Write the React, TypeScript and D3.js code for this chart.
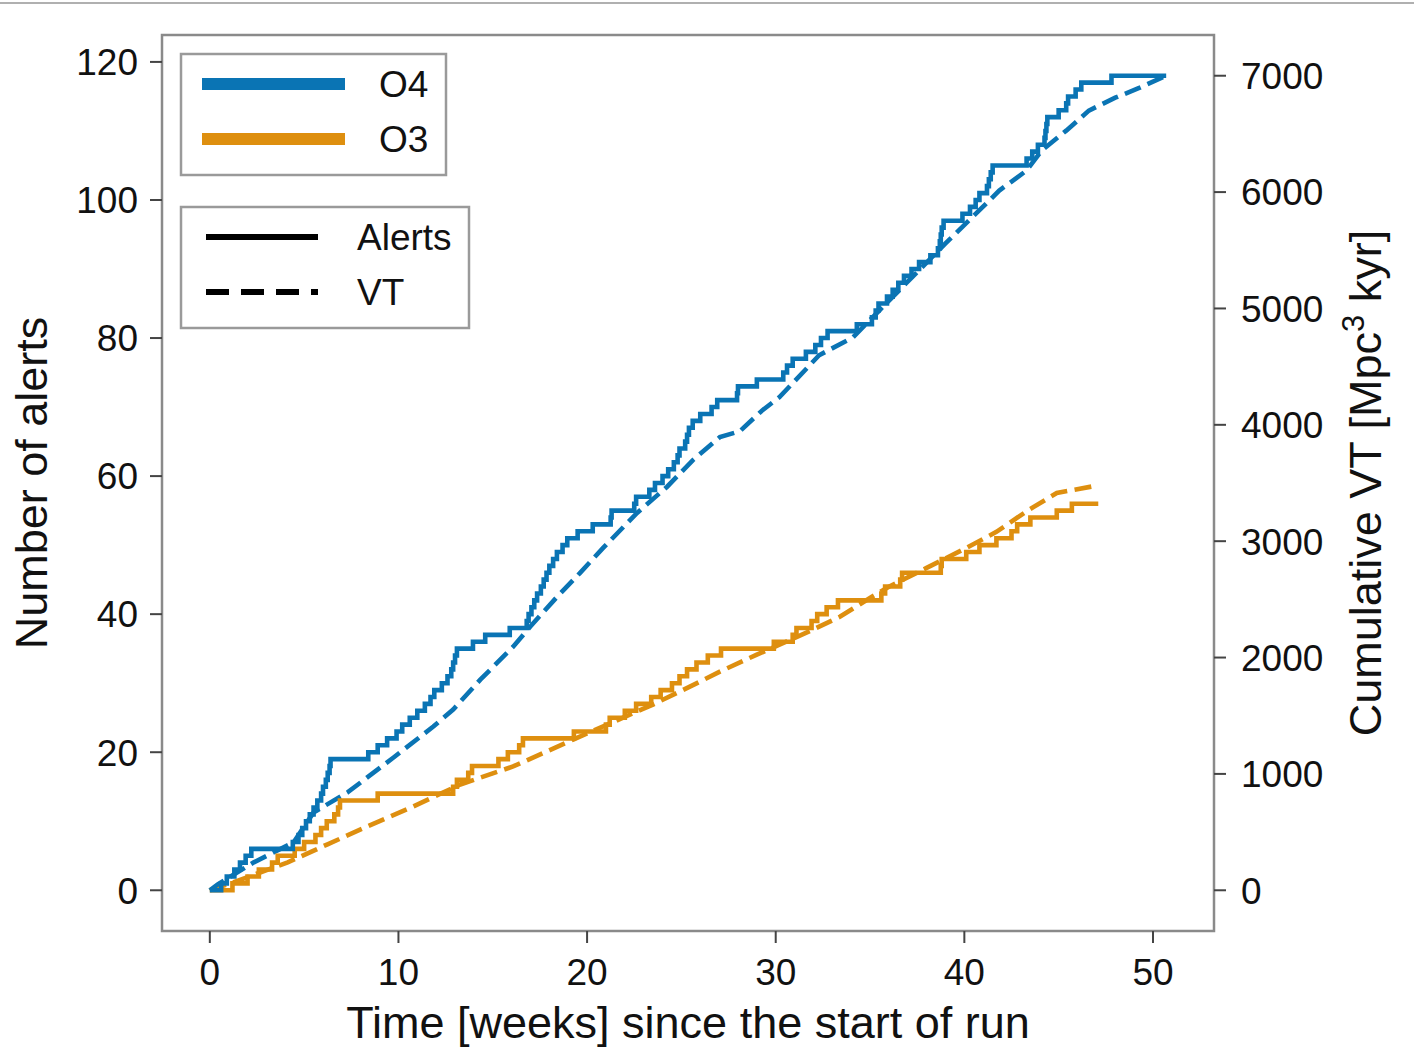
import React from "react";
import * as d3 from "d3";

// ---------- data ----------
// week at which each successive O4 alert arrived (cumulative count = index + 1)
const o4AlertWeeks = [
  0.6, 0.9, 1.3, 1.6, 1.9, 2.2,
  4.4, 4.7, 4.9, 5.1, 5.3, 5.5, 5.7, 5.9, 6.0, 6.15, 6.25, 6.35, 6.4,
  8.4, 8.9, 9.4, 9.9, 10.2, 10.6, 11.0, 11.4, 11.7, 11.9, 12.3, 12.6, 12.8, 12.9, 13.0, 13.1,
  13.95, 14.6, 15.9, 16.8, 16.9, 17.05, 17.2, 17.35, 17.55, 17.7, 17.85, 18.0, 18.2, 18.4, 18.7, 18.95, 19.5, 20.3, 21.25, 21.3,
  22.5, 22.6, 23.3, 23.6, 24.0, 24.3, 24.6, 24.8, 24.9, 25.2, 25.3, 25.4, 25.6, 26.0, 26.6, 26.9,
  27.95, 28.0, 29.0, 30.4, 30.6, 30.9, 31.6, 32.1, 32.4, 32.75,
  34.3, 35.1, 35.3, 35.45, 35.9, 36.2, 36.5, 36.8, 37.2, 37.6, 38.2, 38.6, 38.7, 38.75, 38.8, 38.9,
  39.9, 40.3, 40.6, 40.8, 41.2, 41.3, 41.4, 41.5,
  43.3, 43.6, 43.9, 44.25, 44.3, 44.35, 44.4, 45.0, 45.4, 45.5, 45.9, 46.2, 47.8,
];
const o4RunEndWeek = 50.7;

const o3AlertWeeks = [
  1.2, 2.0, 2.6, 3.3, 3.6, 4.5, 5.0, 5.6, 5.9, 6.2, 6.6, 6.8, 6.9,
  8.9, 12.9, 13.1, 13.7, 13.9, 15.3, 15.8, 16.4, 16.6,
  19.3, 21.0, 21.2, 22.0, 22.6, 23.4, 23.9, 24.5, 24.9, 25.3, 25.8, 26.4, 27.1,
  29.9, 30.9, 31.1, 31.9, 32.2, 32.7, 33.3,
  35.6, 35.8, 36.6, 36.7, 38.75, 38.8, 40.1, 40.8, 41.7, 42.5, 42.8, 43.5, 44.9, 45.7,
];
const o3RunEndWeek = 47.1;

// cumulative VT [Mpc^3 kyr]
const o4VtWeeks = [0, 0.42, 2.33, 4.44, 5.5, 7.3, 9.74, 11.85, 12.9, 14.34, 16.08, 16.98, 18.41, 19.63, 20.85, 22.65, 24.23, 25.61, 27.04, 28.1, 29.3, 30.2, 32.3, 34.1, 35.5, 39.0, 40.95, 41.85, 43.3, 44.1, 45.4, 46.6, 48.0, 49.3, 50.7];
const o4VtValues = [0, 51, 240, 412, 669, 841, 1141, 1407, 1553, 1810, 2093, 2265, 2522, 2728, 2942, 3243, 3466, 3697, 3895, 3945, 4126, 4238, 4598, 4752, 4984, 5559, 5868, 6013, 6185, 6357, 6528, 6700, 6811, 6897, 7000];

const o3VtWeeks = [0, 1.27, 4.13, 6.24, 8.36, 10.79, 13.28, 16.08, 19.26, 23.49, 25.45, 27.04, 29.0, 30.2, 31.96, 33.4, 35.1, 36.0, 38.0, 39.9, 41.7, 43.4, 44.9, 46.9];
const o3VtValues = [0, 69, 240, 395, 549, 721, 909, 1064, 1295, 1596, 1750, 1879, 2025, 2110, 2239, 2350, 2522, 2608, 2771, 2925, 3080, 3268, 3414, 3474];

const xTicks = [0, 10, 20, 30, 40, 50];
const yLeftTicks = [0, 20, 40, 60, 80, 100, 120];
const yRightTicks = [0, 1000, 2000, 3000, 4000, 5000, 6000, 7000];

const runLabels = ["O4", "O3"];
const styleLabels = ["Alerts", "VT"];

// ---------- styling ----------
const W = 1414;
const H = 1061;
const M = { left: 162, right: 1214, top: 35, bottom: 931 };
const BLUE = "#0a74b4";
const ORANGE = "#DE8F0F";
const FONT = "'Liberation Sans', Arial, Helvetica, sans-serif";
const LW = 4.6;
const DASH = "17 7.5";

function stepPoints(weeks: number[], end: number): [number, number][] {
  const pts: [number, number][] = [[0, 0]];
  weeks.forEach((w, i) => pts.push([w, i + 1]));
  pts.push([end, weeks.length]);
  return pts;
}

export default function App() {
  const xMax = Math.max(o4RunEndWeek, o3RunEndWeek);
  const xPad = xMax * 0.05;
  const x = d3.scaleLinear().domain([-xPad, xMax + xPad]).range([M.left, M.right]);
  const yMax = o4AlertWeeks.length;
  const yPad = yMax * 0.05;
  const yL = d3.scaleLinear().domain([-yPad, yMax + yPad]).range([M.bottom, M.top]);
  const vMax = d3.max(o4VtValues) as number;
  const vPad = vMax * 0.05;
  const yR = d3.scaleLinear().domain([-vPad, vMax + vPad]).range([M.bottom, M.top]);

  const stepLine = d3
    .line<[number, number]>()
    .x((d) => x(d[0]))
    .y((d) => yL(d[1]))
    .curve(d3.curveStepAfter);
  const vtLine = d3
    .line<[number, number]>()
    .x((d) => x(d[0]))
    .y((d) => yR(d[1]));

  const o4Alerts = stepLine(stepPoints(o4AlertWeeks, o4RunEndWeek)) || "";
  const o3Alerts = stepLine(stepPoints(o3AlertWeeks, o3RunEndWeek)) || "";
  const o4Vt = vtLine(o4VtWeeks.map((w, i) => [w, o4VtValues[i]] as [number, number])) || "";
  const o3Vt = vtLine(o3VtWeeks.map((w, i) => [w, o3VtValues[i]] as [number, number])) || "";

  const tickColor = "#444";
  const frameColor = "#8a8a8a";
  const tickFont = 37;
  const labelFont = 45;

  return (
    <svg
      width={W}
      height={H}
      style={{ position: "absolute", left: 0, top: 0, background: "#fff" }}
      fontFamily={FONT}
    >
      <rect x={0} y={0} width={W} height={H} fill="#fff" />
      <line x1={0} x2={W} y1={3} y2={3} stroke="#b0b0b0" strokeWidth={2} />

      {/* data lines */}
      <g fill="none" strokeLinejoin="miter" strokeLinecap="butt">
        <path d={o3Vt} stroke={ORANGE} strokeWidth={LW} strokeDasharray={DASH} />
        <path d={o4Vt} stroke={BLUE} strokeWidth={LW} strokeDasharray={DASH} />
        <path d={o3Alerts} stroke={ORANGE} strokeWidth={LW} />
        <path d={o4Alerts} stroke={BLUE} strokeWidth={LW} />
      </g>

      {/* frame */}
      <rect
        x={M.left}
        y={M.top}
        width={M.right - M.left}
        height={M.bottom - M.top}
        fill="none"
        stroke={frameColor}
        strokeWidth={2.5}
      />

      {/* bottom axis */}
      {xTicks.map((t) => (
        <g key={"x" + t}>
          <line x1={x(t)} x2={x(t)} y1={M.bottom} y2={M.bottom + 12} stroke={tickColor} strokeWidth={2} />
          <text x={x(t)} y={M.bottom + 54} textAnchor="middle" fontSize={tickFont} fill="#111">
            {t}
          </text>
        </g>
      ))}
      <text x={(M.left + M.right) / 2} y={1038} textAnchor="middle" fontSize={labelFont} fill="#111">
        Time [weeks] since the start of run
      </text>

      {/* left axis */}
      {yLeftTicks.map((t) => (
        <g key={"yl" + t}>
          <line x1={M.left - 12} x2={M.left} y1={yL(t)} y2={yL(t)} stroke={tickColor} strokeWidth={2} />
          <text x={M.left - 24} y={yL(t)} dy="0.36em" textAnchor="end" fontSize={tickFont} fill="#111">
            {t}
          </text>
        </g>
      ))}
      <text
        transform={`translate(47, ${(M.top + M.bottom) / 2}) rotate(-90)`}
        textAnchor="middle"
        fontSize={labelFont}
        fill="#111"
      >
        Number of alerts
      </text>

      {/* right axis */}
      {yRightTicks.map((t) => (
        <g key={"yr" + t}>
          <line x1={M.right} x2={M.right + 12} y1={yR(t)} y2={yR(t)} stroke={tickColor} strokeWidth={2} />
          <text x={M.right + 27} y={yR(t)} dy="0.36em" textAnchor="start" fontSize={tickFont} fill="#111">
            {t}
          </text>
        </g>
      ))}
      <text
        transform={`translate(1381, ${(M.top + M.bottom) / 2}) rotate(-90)`}
        textAnchor="middle"
        fontSize={labelFont}
        fill="#111"
      >
        Cumulative VT [Mpc
        <tspan dy={-17} fontSize={31}>3</tspan>
        <tspan dy={17}> kyr]</tspan>
      </text>

      {/* legend 1: runs */}
      <rect x={181} y={54} width={265} height={121} fill="#fff" stroke="#9a9a9a" strokeWidth={2.5} />
      {runLabels.map((lab, i) => (
        <g key={lab}>
          <line x1={202} x2={345} y1={84 + i * 55} y2={84 + i * 55} stroke={i === 0 ? BLUE : ORANGE} strokeWidth={12} />
          <text x={379} y={84 + i * 55} dy="0.36em" fontSize={tickFont} fill="#111">
            {lab}
          </text>
        </g>
      ))}

      {/* legend 2: line styles */}
      <rect x={181} y={207} width={288} height={121} fill="#fff" stroke="#9a9a9a" strokeWidth={2.5} />
      {styleLabels.map((lab, i) => (
        <g key={lab}>
          <line
            x1={206}
            x2={318}
            y1={237 + i * 55}
            y2={237 + i * 55}
            stroke="#000"
            strokeWidth={6}
            strokeDasharray={i === 1 ? "23 12" : undefined}
          />
          <text x={357} y={237 + i * 55} dy="0.36em" fontSize={tickFont} fill="#111">
            {lab}
          </text>
        </g>
      ))}
    </svg>
  );
}
